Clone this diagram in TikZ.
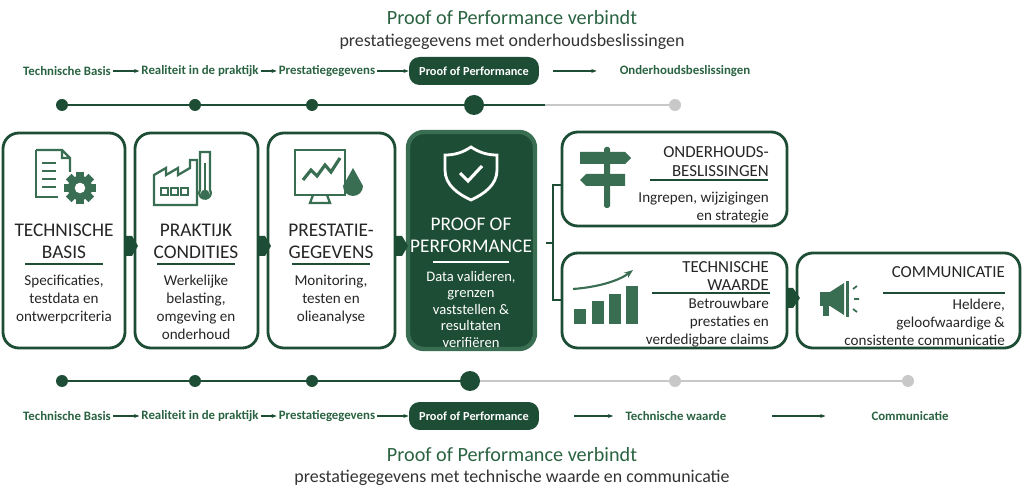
\documentclass[tikz,border=0pt]{standalone}
\usepackage{fontspec}
\setmainfont{Carlito}
\usetikzlibrary{arrows.meta}
\definecolor{pgreen}{HTML}{1E4D35}
\definecolor{tgreen}{HTML}{2A6341}
\definecolor{igreen}{HTML}{3A6E52}
\definecolor{lgray}{HTML}{C8C8C8}
\begin{document}
\begin{tikzpicture}[x=0.02cm,y=-0.02cm,
  box/.style={draw=pgreen,line width=1.6pt,rounded corners=9pt,fill=white},
  darkbox/.style={draw=igreen,line width=2.5pt,rounded corners=9pt,fill=pgreen},
  steplbl/.style={font=\fontsize{7.3}{8}\selectfont\bfseries,text=tgreen,inner sep=1pt},
  pill/.style={fill=pgreen,rounded corners=6pt,minimum width=2.6cm,minimum height=0.56cm,text=white,font=\fontsize{7}{8}\selectfont\bfseries},
  flow/.style={-{Stealth[length=3pt]},pgreen,line width=0.7pt},
  title/.style={font=\fontsize{11.5}{13}\selectfont,text=tgreen},
  subtitle/.style={font=\fontsize{10.2}{12}\selectfont,text=black!80},
  head/.style={font=\fontsize{11}{12.6}\selectfont,align=center,text=black!85},
  rhead/.style={font=\fontsize{9.6}{11}\selectfont,align=right,anchor=north east,text=black!85},
  desc/.style={font=\fontsize{8.6}{10.2}\selectfont,align=center,text=black!85},
  rdesc/.style={desc,align=right,anchor=north east},
  dot/.style={circle,fill=pgreen,inner sep=0pt,minimum size=#1},
  gdot/.style={circle,fill=lgray,inner sep=0pt,minimum size=0.24cm},
  chev/.style={fill=pgreen}]
\useasboundingbox (0,0) rectangle (1024,499);

% Titles
\node[title] (toptitle) at (512,18) {Proof of Performance verbindt};
\node[subtitle] (topsub) at (512,42) {prestatiegegevens met onderhoudsbeslissingen};
\node[title] (bottitle) at (512,455) {Proof of Performance verbindt};
\node[subtitle] (botsub) at (512,478) {prestatiegegevens met technische waarde en communicatie};

% Top step row
\node[steplbl] (tBasis) at (67,71) {Technische Basis};
\node[steplbl] (tPraktijk) at (200,71) {Realiteit in de praktijk};
\node[steplbl] (tPrest) at (327,71) {Prestatiegegevens};
\node[pill] (tPoP) at (474,71) {Proof of Performance};
\node[steplbl] (tOnder) at (685,71) {Onderhoudsbeslissingen};
\draw[flow] (tBasis) -- (tPraktijk);
\draw[flow] (tPraktijk) -- (tPrest);
\draw[flow] (tPrest) -- (tPoP);
\draw[flow] ([xshift=8]tPoP.east) -- ([xshift=-12]tOnder.west);

% Top timeline
\coordinate (tl1) at (62,105);
\coordinate (tl4) at (474,105);
\coordinate (tl5) at (675,105);
\draw[pgreen,line width=1.3pt] (tl1) -- (545,105);
\draw[lgray,line width=1.3pt] (545,105) -- (tl5);
\node[dot=0.24cm] (td1) at (tl1) {};
\node[dot=0.24cm] (td2) at (195,105) {};
\node[dot=0.24cm] (td3) at (312,105) {};
\node[dot=0.4cm] (td4) at (tl4) {};
\node[gdot] (td5) at (tl5) {};

% Main boxes
\draw[box] (3,133) rectangle (125,348);
\draw[box] (135,133) rectangle (258,348);
\draw[box] (268,133) rectangle (395,348);
\draw[darkbox] (408,132) rectangle (535,349);
\foreach \x in {124,257,394}
  \fill[chev] (\x,236) -- (\x+8,236) -- (\x+14,246) -- (\x+8,256) -- (\x,256) -- cycle;

\node[head] (hBasis) at (64,241) {TECHNISCHE\\BASIS};
\node[head] (hPraktijk) at (196,241) {PRAKTIJK\\CONDITIES};
\node[head] (hPrest) at (331,241) {PRESTATIE-\\GEGEVENS};
\node[head,text=white] (hPoP) at (471,235) {PROOF OF\\PERFORMANCE};
\foreach \x/\w in {64/78,196/78,331/78} \draw[pgreen,line width=1.1pt] (\x-\w/2,264) -- (\x+\w/2,264);
\draw[white,line width=1.1pt] (433,262) -- (509,262);
\node[desc,anchor=north] (dBasis) at (64,269) {Specificaties,\\testdata en\\ontwerpcriteria};
\node[desc,anchor=north] (dPraktijk) at (196,269) {Werkelijke\\belasting,\\omgeving en\\onderhoud};
\node[desc,anchor=north] (dPrest) at (331,269) {Monitoring,\\testen en\\olieanalyse};
\node[desc,anchor=north,text=white,font=\fontsize{8.3}{9.4}\selectfont] (dPoP) at (471,265) {Data valideren,\\grenzen\\vaststellen \&\\resultaten\\verifiëren};

% Icons
\begin{scope}[igreen,line width=1.3pt]
  % document with gear
  \draw (36,150) -- (62,150) -- (70,158) -- (70,172) (62,150) -- (62,158) -- (70,158);
  \draw (36,150) -- (36,197) -- (58,197);
  \foreach \y in {163,171,179,187} \draw (42,\y) -- (56,\y);
  \fill (80,188) circle (7pt);
  \foreach \a in {0,45,...,315} \fill[rotate around={\a:(80,188)}] (76,172) rectangle (84,178);
  \fill[white] (80,188) circle (3pt);
  % factory with thermometer
  \draw (154,205) -- (154,175) -- (166,168) -- (166,175) -- (178,168) -- (178,175) -- (190,168) -- (190,160) -- (197,160) -- (197,205) -- cycle;
  \foreach \x in {161,171,181} \draw (\x,188) rectangle (\x+7,195);
  \draw (200,190) -- (200,152) -- (210,152) -- (210,190) arc (-30:210:5.8) -- cycle;
  \fill (205,194) circle (2.5pt);
  \draw (205,163) -- (205,193);
  % monitor with drop
  \draw[line width=1.5pt] (295,150) rectangle (345,195);
  \draw (313,195) -- (310,203) -- (330,203) -- (327,195);
  \draw[line width=1.8pt] (303,180) -- (311,170) -- (317,176) -- (325,165) -- (331,172) -- (340,158);
  \fill (353,168) -- (343,186) arc (180:0:10) -- cycle;
\end{scope}
% shield
\draw[white,line width=1.6pt] (471,147) .. controls (480,153) and (488,155) .. (497,155) -- (497,170) .. controls (497,185) and (484,194) .. (471,200) .. controls (458,194) and (445,185) .. (445,170) -- (445,155) .. controls (454,155) and (462,153) .. (471,147) -- cycle;
\draw[white,line width=1.8pt] (460,173) -- (468,181) -- (482,166);

% Brace
\draw[pgreen,line width=1pt] (561,185) -- (553,185) -- (553,300) -- (561,300) (553,243) -- (546,243);

% Right boxes
\draw[box] (562,132) rectangle (787,226);
\draw[box] (562,253) rectangle (787,348);
\draw[box] (797,253) rectangle (1020,348);
\fill[chev] (786,288) -- (793,288) -- (800,298) -- (793,308) -- (786,308) -- cycle;

\node[rhead] (hOnder) at (775,140) {ONDERHOUDS-\\BESLISSINGEN};
\draw[pgreen,line width=1.1pt] (650,180) -- (768,180);
\node[rdesc] (dOnder) at (775,186) {Ingrepen, wijzigingen\\en strategie};
\node[rhead,font=\fontsize{9.6}{10.4}\selectfont] (hWaarde) at (775,255) {TECHNISCHE\\WAARDE};
\draw[pgreen,line width=1.1pt] (652,293) -- (770,293);
\node[rdesc] (dWaarde) at (775,292) {Betrouwbare\\prestaties en\\verdedigbare claims};
\node[rhead] (hComm) at (1011,260) {COMMUNICATIE};
\draw[pgreen,line width=1.1pt] (883,293) -- (1005,293);
\node[rdesc] (dComm) at (1011,293) {Heldere,\\geloofwaardige \&\\consistente communicatie};

% sign post, bar chart, megaphone
\begin{scope}[igreen]
  \fill[rounded corners=1pt] (604,147) rectangle (610,208);
  \fill (580,152) -- (625,152) -- (631,158) -- (625,164) -- (580,164) -- cycle;
  \fill (586,174) -- (625,174) -- (625,186) -- (586,186) -- (580,180) -- cycle;
  \foreach \x/\h in {574/15,592/23,609/30,626/38} \fill (\x,324) rectangle (\x+12,324-\h);
  \draw[line width=1.2pt,-{Stealth[length=5pt]}] (573,289) .. controls (600,287) and (620,280) .. (633,270);
  \fill (820,292) rectangle (830,306);
  \fill (830,292) -- (844,283) -- (844,315) -- (830,306) -- cycle;
  \fill (846,281) rectangle (849,317);
  \fill (823,306) rectangle (829,316);
  \draw[line width=1pt] (853,289) -- (857,286) (854,299) -- (859,299) (853,309) -- (857,312);
\end{scope}

% Bottom timeline
\coordinate (bl1) at (62,381);
\coordinate (bl4) at (470,381);
\draw[pgreen,line width=1.3pt] (bl1) -- (bl4);
\draw[lgray,line width=1.3pt] (bl4) -- (908,381);
\node[dot=0.24cm] (bd1) at (bl1) {};
\node[dot=0.24cm] (bd2) at (195,381) {};
\node[dot=0.24cm] (bd3) at (312,381) {};
\node[dot=0.4cm] (bd4) at (bl4) {};
\node[gdot] (bd5) at (675,381) {};
\node[gdot] (bd6) at (908,381) {};

% Bottom step row
\node[steplbl] (bBasis) at (67,416) {Technische Basis};
\node[steplbl] (bPraktijk) at (200,416) {Realiteit in de praktijk};
\node[steplbl] (bPrest) at (327,416) {Prestatiegegevens};
\node[pill] (bPoP) at (474,416) {Proof of Performance};
\node[steplbl] (bWaarde) at (676,416) {Technische waarde};
\node[steplbl] (bComm) at (910,416) {Communicatie};
\draw[flow] (bBasis) -- (bPraktijk);
\draw[flow] (bPraktijk) -- (bPrest);
\draw[flow] (bPrest) -- (bPoP);
\draw[flow] ([xshift=20]bPoP.east) -- ([xshift=-6]bWaarde.west);
\draw[flow] ([xshift=25]bWaarde.east) -- ([xshift=-25]bComm.west);
\end{tikzpicture}
\end{document}
